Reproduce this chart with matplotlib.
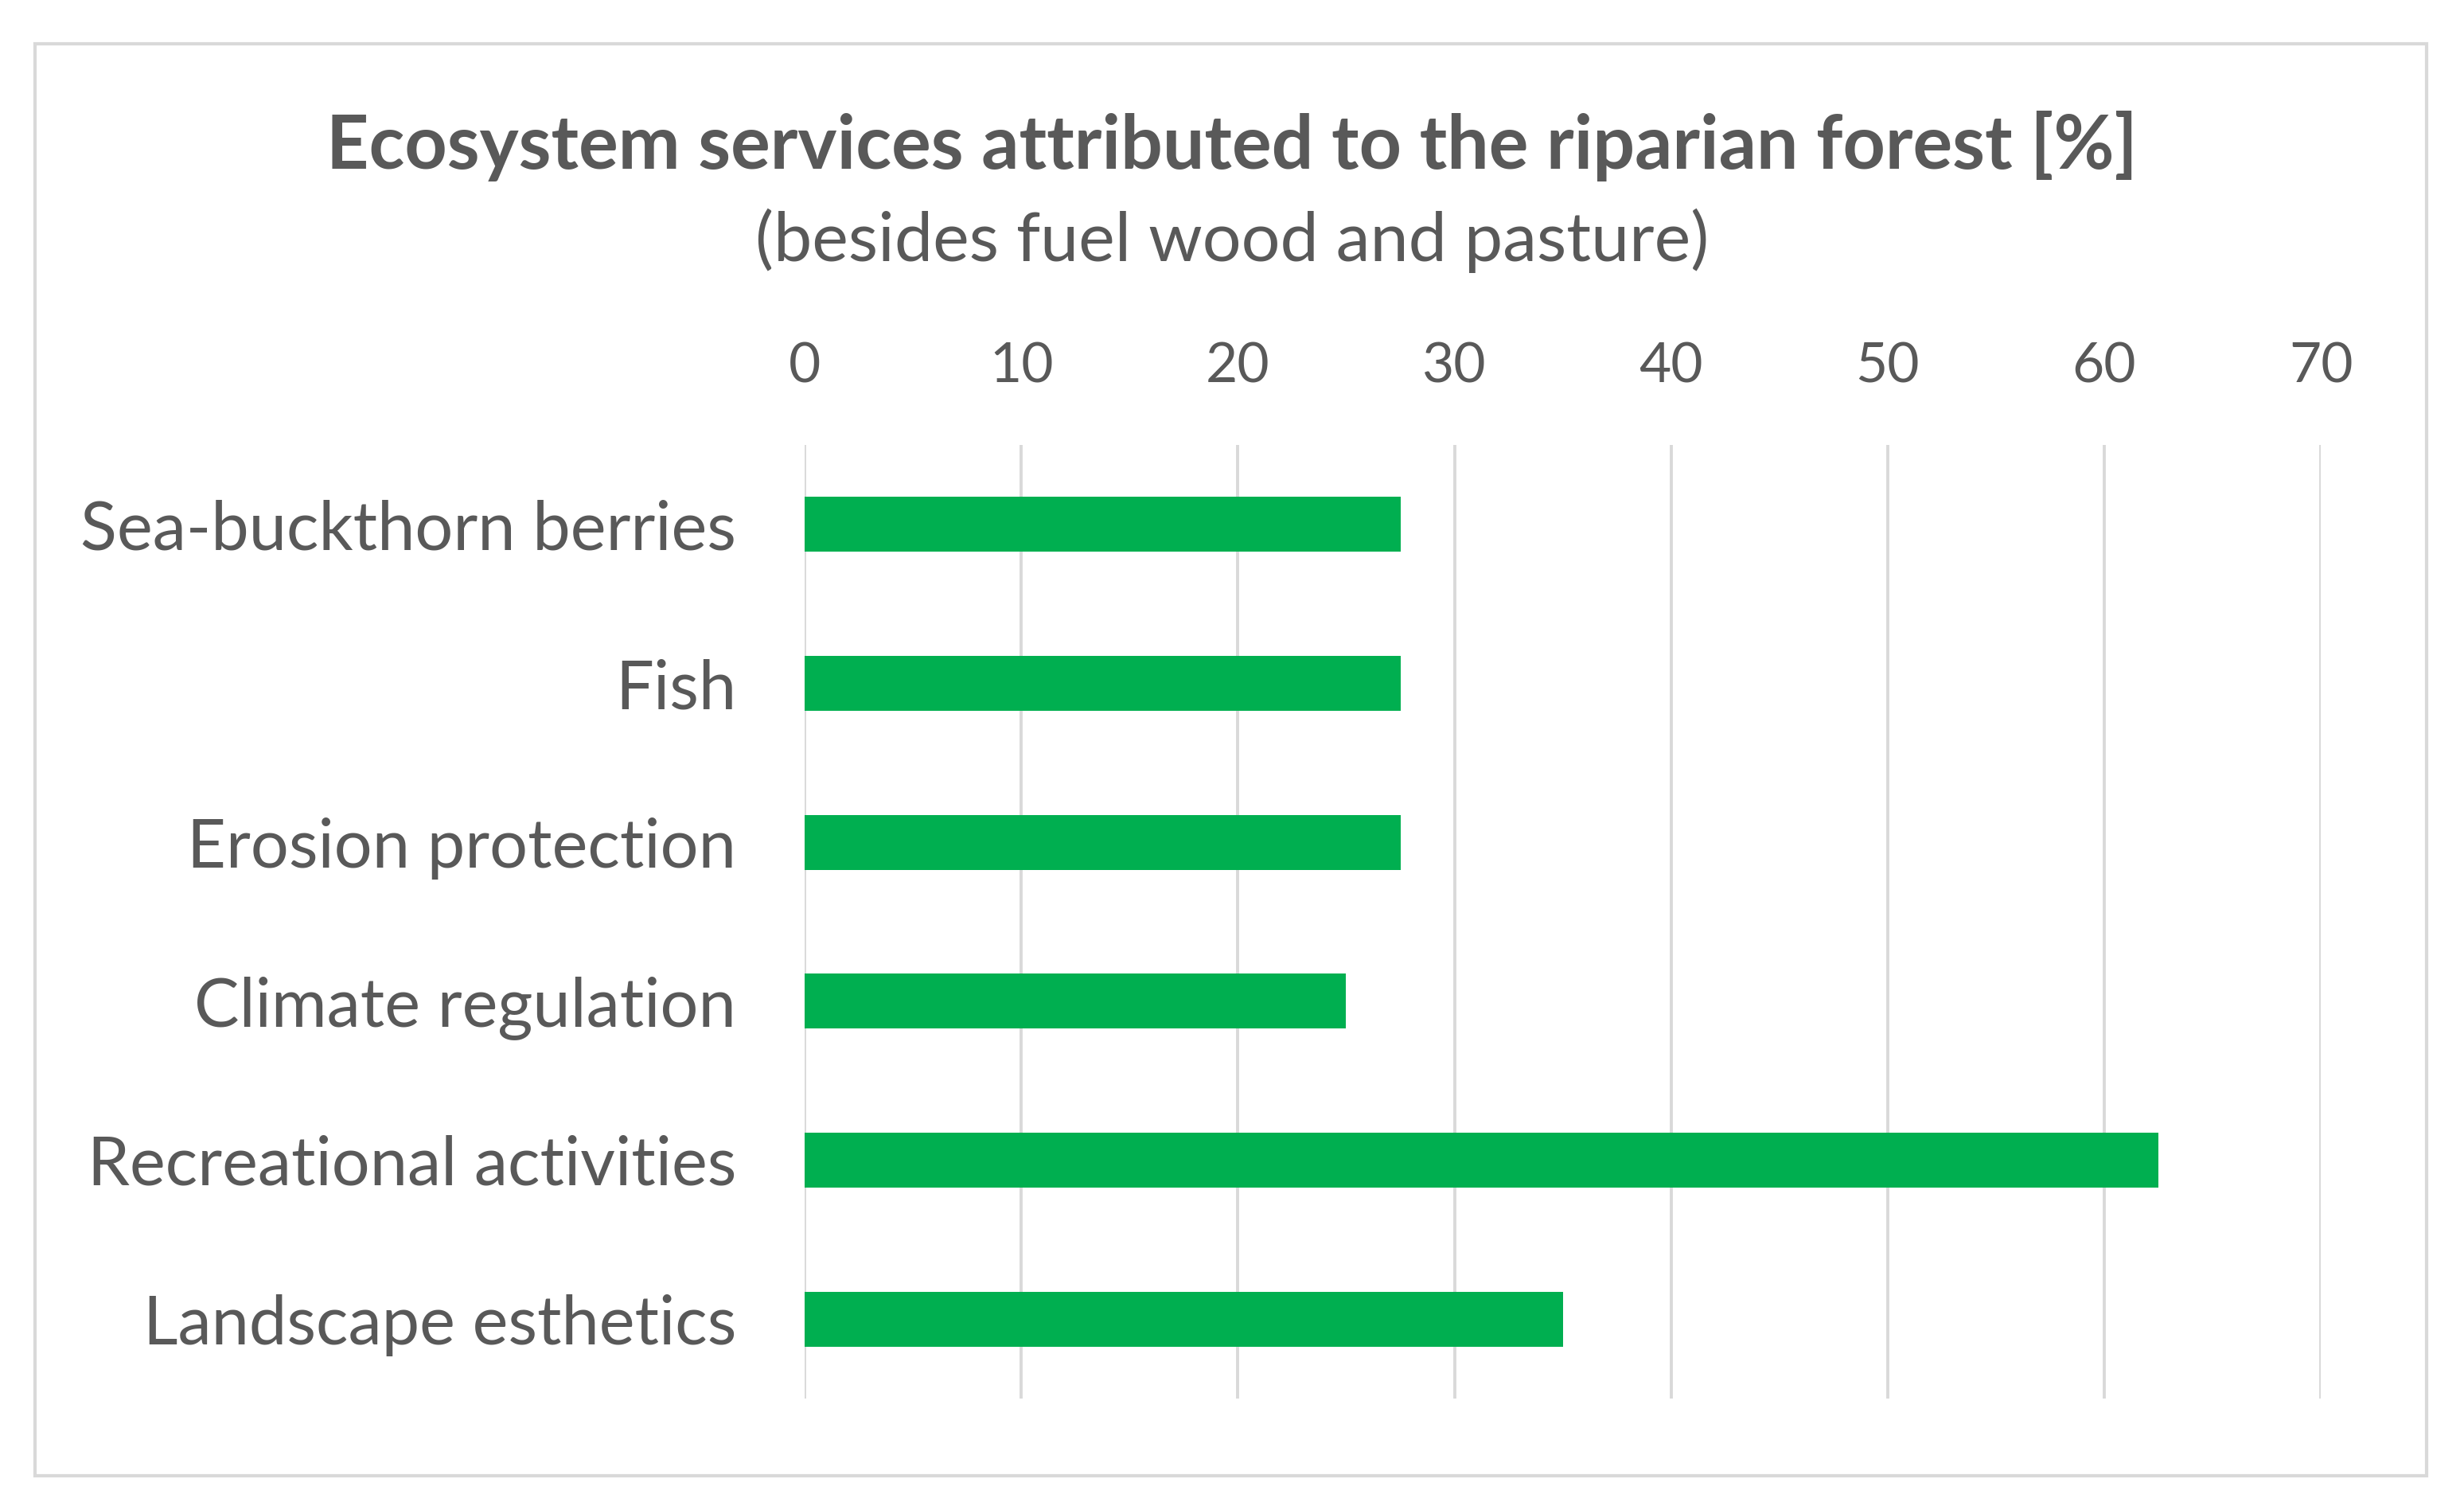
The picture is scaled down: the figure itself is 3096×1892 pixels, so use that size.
#Horizontal bar chart - ecosystem services of the riparian forest
import numpy as np
import matplotlib.pyplot as plt
from matplotlib.patches import Rectangle

#Data (top to bottom)
services = ['Sea-buckthorn berries', 'Fish', 'Erosion protection',
            'Climate regulation', 'Recreational activities', 'Landscape esthetics']
percent = [27.5, 27.5, 27.5, 25.0, 62.5, 35.0]
x_ticks = [0, 10, 20, 30, 40, 50, 60, 70]

#Colours
bar_green = '#00AF50'
text_grey = '#595959'
grid_grey = '#D9D9D9'

plt.rcParams['font.family'] = ['Lato', 'DejaVu Sans']

fig = plt.figure(figsize=(30.96, 18.92), dpi=100)
ax = fig.add_axes([0.3266, 0.0714, 0.6153, 0.6331])

#Bars, first category on top
y_pos = np.arange(len(services))
ax.barh(y_pos, percent, height=0.345, color=bar_green, zorder=3)
ax.set_ylim(len(services) - 0.5, -0.5)
ax.set_yticks(y_pos)
ax.set_yticklabels(services, fontsize=61, color=text_grey)

#Value axis on top
ax.set_xlim(0, 70)
ax.set_xticks(x_ticks)
ax.xaxis.tick_top()
ax.tick_params(axis='x', labelsize=50, labelcolor=text_grey, length=0, pad=48)
ax.tick_params(axis='y', length=0, pad=62)
ax.grid(axis='x', color=grid_grey, linewidth=2.8, zorder=0)
for spine in ax.spines.values():
    spine.set_visible(False)

#Titles
fig.text(0.5, 0.903, 'Ecosystem services attributed to the riparian forest [%]',
         ha='center', va='center', fontsize=67, fontweight='bold', color=text_grey)
fig.text(0.5, 0.840, '(besides fuel wood and pasture)',
         ha='center', va='center', fontsize=62, color=text_grey)

#Chart border
fig.patches.append(Rectangle((0.0142, 0.0201), 0.9705, 0.9507, transform=fig.transFigure,
                             fill=False, edgecolor=grid_grey, linewidth=3))

fig.savefig('out.png', dpi=100, facecolor='white')
